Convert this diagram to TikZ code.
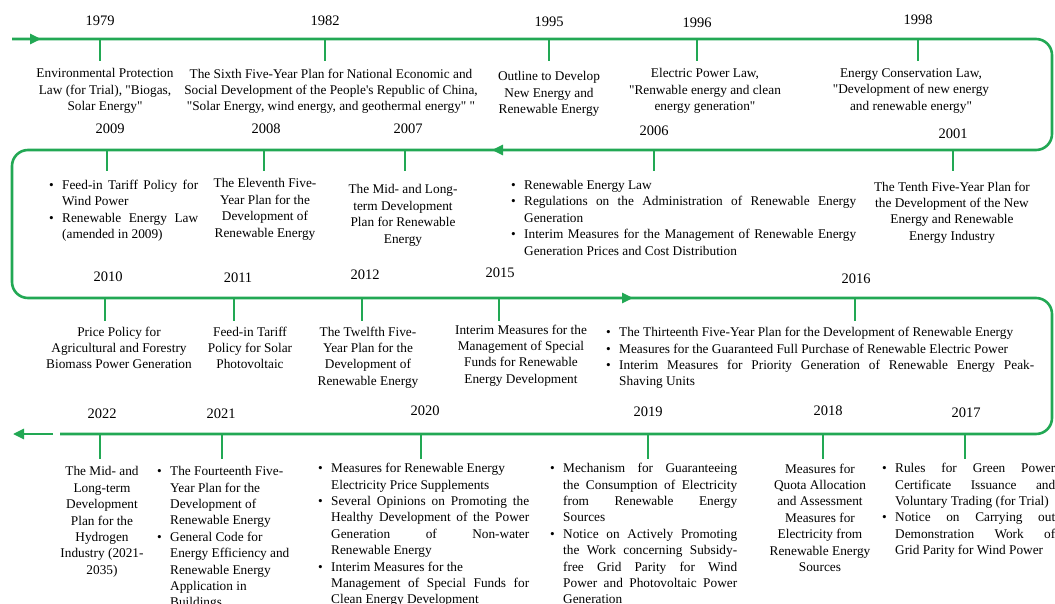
\documentclass[tikz,border=0pt]{standalone}
\usepackage{fontspec}
\setmainfont{Liberation Serif}[Ligatures=TeXOff]
\usepackage{tikz}
\usetikzlibrary{arrows.meta}
\definecolor{tlgreen}{RGB}{34,168,84}
\setlength{\parindent}{0pt}
\newdimen\bitemdp
\newcommand{\bitem}[1]{\par\noindent\makebox[14pt][l]{\hspace{1pt}\textbullet}\parbox[t]{\dimexpr\hsize-14pt\relax}{#1\par\global\bitemdp=\prevdepth}\par\prevdepth=\bitemdp}

\begin{document}
\begin{tikzpicture}[x=1pt, y=-1pt,
	year/.style={font=\fontsize{14.5}{17}\selectfont},
	txt/.style={anchor=north, align=center, inner sep=0pt, font=\fontsize{13.3}{16.4}\selectfont},
	blist/.style={anchor=north west, align=justify, inner sep=0pt, text width=#1, font=\fontsize{13.3}{16.4}\selectfont},
	tick/.style={line width=1.6pt, tlgreen},
	trunk/.style={line width=2.6pt, tlgreen, rounded corners=16pt},
	flow/.style={line width=2.6pt, tlgreen, -{Triangle[length=11pt,width=10pt]}}]
	\useasboundingbox (0,0) rectangle (1055,604);

	\coordinate (r1w) at (12,39);
	\coordinate (r1e) at (1052,39);
	\coordinate (r2e) at (1052,150);
	\coordinate (r2w) at (12,150);
	\coordinate (r3w) at (12,298);
	\coordinate (r3e) at (1052,298);
	\coordinate (r4e) at (1052,434);
	\coordinate (r4w) at (60,434);
	\draw[trunk] (r1w) -- (r1e) -- (r2e) -- (r2w) -- (r3w) -- (r3e) -- (r4e) -- (r4w);

	\coordinate (a1) at (41,39);
	\coordinate (a2s) at (515,150);
	\coordinate (a2) at (492,150);
	\coordinate (a3s) at (610,298);
	\coordinate (a3) at (633,298);
	\coordinate (a4s) at (53,434);
	\coordinate (a4) at (13,434);
	\draw[flow] (r1w) -- (a1);
	\draw[flow] (a2s) -- (a2);
	\draw[flow] (a3s) -- (a3);
	\draw[flow] (a4s) -- (a4);

	\coordinate (c1979) at (100,39);
	\draw[tick] (c1979) -- ++(0,22);
	\node[year] (y1979) at (100,21) {1979};
	\node[txt] (t1979) at (105,68.5) {Environmental Protection\\Law (for Trial), "Biogas,\\Solar Energy"};

	\coordinate (c1982) at (325,39);
	\draw[tick] (c1982) -- ++(0,22);
	\node[year] (y1982) at (325,21) {1982};
	\node[txt] (t1982) at (331,68.5) {The Sixth Five-Year Plan for National Economic and\\Social Development of the People's Republic of China,\\"Solar Energy, wind energy, and geothermal energy" "};

	\coordinate (c1995) at (549,39);
	\draw[tick] (c1995) -- ++(0,22);
	\node[year] (y1995) at (549,22) {1995};
	\node[txt] (t1995) at (549,71.5) {Outline to Develop\\New Energy and\\Renewable Energy};

	\coordinate (c1996) at (697,39);
	\draw[tick] (c1996) -- ++(0,22);
	\node[year] (y1996) at (697,23) {1996};
	\node[txt] (t1996) at (705,68.5) {Electric Power Law,\\"Renwable energy and clean\\energy generation"};

	\coordinate (c1998) at (918,39);
	\draw[tick] (c1998) -- ++(0,22);
	\node[year] (y1998) at (918,20) {1998};
	\node[txt] (t1998) at (911,68.5) {Energy Conservation Law,\\"Development of new energy\\and renewable energy"};

	\coordinate (c2009) at (107,150);
	\draw[tick] (c2009) -- ++(0,21);
	\node[year] (y2009) at (110,129) {2009};
	\node[blist=150pt] (t2009) at (48,173) {\bitem{Feed-in Tariff Policy for\linebreak Wind Power}\bitem{Renewable Energy Law\linebreak (amended in 2009)}};

	\coordinate (c2008) at (264,150);
	\draw[tick] (c2008) -- ++(0,21);
	\node[year] (y2008) at (266,129) {2008};
	\node[txt] (t2008) at (265,178.5) {The Eleventh Five-\\Year Plan for the\\Development of\\Renewable Energy};

	\coordinate (c2007) at (405,150);
	\draw[tick] (c2007) -- ++(0,21);
	\node[year] (y2007) at (408,129) {2007};
	\node[txt] (t2007) at (403,184.5) {The Mid- and Long-\\term Development\\Plan for Renewable\\Energy};

	\coordinate (c2006) at (654,150);
	\draw[tick] (c2006) -- ++(0,21);
	\node[year] (y2006) at (654,131) {2006};
	\node[blist=346pt] (t2006) at (510,173) {\bitem{Renewable Energy Law}\bitem{Regulations on the Administration of Renewable Energy\linebreak Generation}\bitem{Interim Measures for the Management of Renewable Energy\linebreak Generation Prices and Cost Distribution}};

	\coordinate (c2001) at (953,150);
	\draw[tick] (c2001) -- ++(0,21);
	\node[year] (y2001) at (953,134) {2001};
	\node[txt] (t2001) at (952,181.5) {The Tenth Five-Year Plan for\\the Development of the New\\Energy and Renewable\\Energy Industry};

	\coordinate (c2010) at (105,298);
	\draw[tick] (c2010) -- ++(0,23);
	\node[year] (y2010) at (108,277) {2010};
	\node[txt] (t2010) at (119,326.5) {Price Policy for\\Agricultural and Forestry\\Biomass Power Generation};

	\coordinate (c2011) at (234,298);
	\draw[tick] (c2011) -- ++(0,23);
	\node[year] (y2011) at (238,278) {2011};
	\node[txt] (t2011) at (250,326.5) {Feed-in Tariff\\Policy for Solar\\Photovoltaic};

	\coordinate (c2012) at (362,298);
	\draw[tick] (c2012) -- ++(0,23);
	\node[year] (y2012) at (365,275) {2012};
	\node[txt] (t2012) at (368,326.5) {The Twelfth Five-\\Year Plan for the\\Development of\\Renewable Energy};

	\coordinate (c2015) at (499,298);
	\draw[tick] (c2015) -- ++(0,23);
	\node[year] (y2015) at (500,273) {2015};
	\node[txt] (t2015) at (521,324.5) {Interim Measures for the\\Management of Special\\Funds for Renewable\\Energy Development};

	\coordinate (c2016) at (855,298);
	\draw[tick] (c2016) -- ++(0,23);
	\node[year] (y2016) at (856,279) {2016};
	\node[blist=429pt] (t2016) at (605,320) {\bitem{The Thirteenth Five-Year Plan for the Development of Renewable Energy}\bitem{Measures for the Guaranteed Full Purchase of Renewable Electric Power}\bitem{Interim Measures for Priority Generation of Renewable Energy Peak-\linebreak Shaving Units}};

	\coordinate (c2022) at (100,434);
	\draw[tick] (c2022) -- ++(0,25);
	\node[year] (y2022) at (102,414) {2022};
	\node[txt] (t2022) at (102,466.5) {The Mid- and\\Long-term\\Development\\Plan for the\\Hydrogen\\Industry (2021-\\2035)};

	\coordinate (c2021) at (222,434);
	\draw[tick] (c2021) -- ++(0,25);
	\node[year] (y2021) at (221,414) {2021};
	\node[blist=138pt] (t2021) at (156,459) {\bitem{The Fourteenth Five-\newline Year Plan for the\newline Development of\newline Renewable Energy}\bitem{General Code for\newline Energy Efficiency and\newline Renewable Energy\newline Application in\newline Buildings}};

	\coordinate (c2020) at (421,434);
	\draw[tick] (c2020) -- ++(0,25);
	\node[year] (y2020) at (425,411) {2020};
	\node[blist=212pt] (t2020) at (317,456) {\bitem{Measures for Renewable Energy\newline Electricity Price Supplements}\bitem{Several Opinions on Promoting the\linebreak Healthy Development of the Power\linebreak Generation of Non-water\linebreak Renewable Energy}\bitem{Interim Measures for the\newline Management of Special Funds for\linebreak Clean Energy Development}};

	\coordinate (c2019) at (648,434);
	\draw[tick] (c2019) -- ++(0,25);
	\node[year] (y2019) at (648,412) {2019};
	\node[blist=188pt] (t2019) at (549,456) {\bitem{Mechanism for Guaranteeing\linebreak the Consumption of Electricity\linebreak from Renewable Energy\linebreak Sources}\bitem{Notice on Actively Promoting\linebreak the Work concerning Subsidy-\linebreak free Grid Parity for Wind\linebreak Power and Photovoltaic Power\linebreak Generation}};

	\coordinate (c2018) at (823,434);
	\draw[tick] (c2018) -- ++(0,25);
	\node[year] (y2018) at (828,411) {2018};
	\node[txt] (t2018) at (820,463.5) {Measures for\\Quota Allocation\\and Assessment\\Measures for\\Electricity from\\Renewable Energy\\Sources};

	\coordinate (c2017) at (965,434);
	\draw[tick] (c2017) -- ++(0,25);
	\node[year] (y2017) at (966,413) {2017};
	\node[blist=174pt] (t2017) at (881,456) {\bitem{Rules for Green Power\linebreak Certificate Issuance and\linebreak Voluntary Trading (for Trial)}\bitem{Notice on Carrying out\linebreak Demonstration Work of\linebreak Grid Parity for Wind Power}};
\end{tikzpicture}
\end{document}
